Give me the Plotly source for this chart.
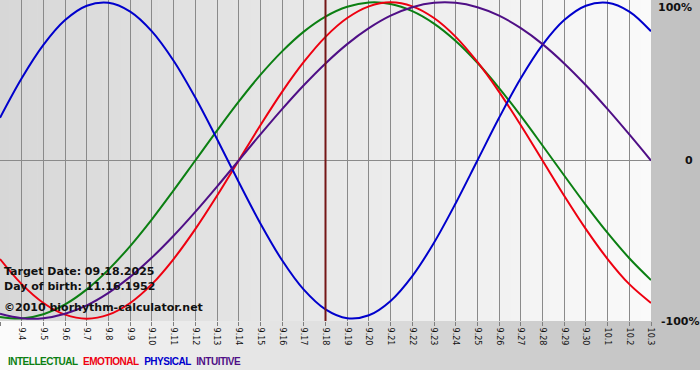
import plotly.graph_objects as go

# ---------------- data ----------------
dates = ["9.3", "9.4", "9.5", "9.6", "9.7", "9.8", "9.9", "9.10", "9.11", "9.12",
         "9.13", "9.14", "9.15", "9.16", "9.17", "9.18", "9.19", "9.20", "9.21", "9.22",
         "9.23", "9.24", "9.25", "9.26", "9.27", "9.28", "9.29", "9.30", "10.1", "10.2", "10.3"]

intellectual = [-0.990, -0.999, -0.972, -0.910, -0.815, -0.690, -0.541, -0.372, -0.189, 0.000,
                0.189, 0.372, 0.541, 0.690, 0.815, 0.910, 0.972, 0.999, 0.990, 0.945,
                0.866, 0.756, 0.618, 0.458, 0.282, 0.095, -0.095, -0.282, -0.458, -0.618, -0.756]

emotional = [-0.623, -0.782, -0.901, -0.975, -1.000, -0.975, -0.901, -0.782, -0.623, -0.434,
             -0.223, 0.000, 0.223, 0.434, 0.623, 0.782, 0.901, 0.975, 1.000, 0.975,
             0.901, 0.782, 0.623, 0.434, 0.223, 0.000, -0.223, -0.434, -0.623, -0.782, -0.901]

physical = [0.270, 0.520, 0.731, 0.888, 0.979, 0.998, 0.942, 0.817, 0.631, 0.398,
            0.136, -0.136, -0.398, -0.631, -0.817, -0.942, -0.998, -0.979, -0.888, -0.731,
            -0.520, -0.270, 0.000, 0.270, 0.520, 0.731, 0.888, 0.979, 0.998, 0.942, 0.817]

intuitive = [-0.969, -0.997, -0.997, -0.969, -0.916, -0.837, -0.736, -0.614, -0.476, -0.325,
             -0.165, 0.000, 0.165, 0.325, 0.476, 0.614, 0.736, 0.837, 0.916, 0.969,
             0.997, 0.997, 0.969, 0.916, 0.837, 0.736, 0.614, 0.476, 0.325, 0.165, 0.000]

series_names = ["INTELLECTUAL", "EMOTIONAL", "PHYSICAL", "INTUITIVE"]
series_values = [intellectual, emotional, physical, intuitive]

target_date = "9.18"
target_text = "Target Date: 09.18.2025"
birth_text = "Day of birth: 11.16.1952"
copyright_text = "\u00a92010 biorhythm-calculator.net"
y_labels = ["100%", "0", "-100%"]

# ---------------- styling ----------------
W, H = 700, 380
ML, MR, MT, MB = 0, 49, 0, 59
PW, PH = W - ML - MR, H - MT - MB
colors = {"INTELLECTUAL": "#0b7f12", "EMOTIONAL": "#ee0010",
          "PHYSICAL": "#0000cc", "INTUITIVE": "#4f0f86"}

x_idx = list(range(len(dates)))

fig = go.Figure()
for name, vals in zip(series_names, series_values):
    fig.add_trace(go.Scatter(x=x_idx, y=vals, mode="lines", name=name,
                             line=dict(color=colors[name], width=2, shape="spline", smoothing=1.0),
                             hoverinfo="skip"))


def px_x(p):  # pixel -> paper x
    return (p - ML) / PW


def px_y(p):  # pixel (from top) -> paper y
    return (MT + PH - p) / PH


def gray(v):
    v = int(round(v))
    return f"rgb({v},{v},{v})"


shapes = []
# outer gradient (right side + bottom band), horizontal light->dark
n_out = 70
bottom_band = px_y(370)
for i in range(n_out):
    x0p = W * i / n_out
    x1p = W * (i + 1) / n_out + 0.6
    c = 251 + (192 - 251) * (i + 0.5) / n_out
    x0, x1 = px_x(x0p), px_x(x1p)
    y1 = 1.0 if x0 >= 1.0 else 0.0
    shapes.append(dict(type="rect", xref="paper", yref="paper", x0=x0, x1=x1,
                       y0=bottom_band, y1=y1, fillcolor=gray(c), line=dict(width=0), layer="below"))
    if x0 < 1.0 < x1:
        shapes.append(dict(type="rect", xref="paper", yref="paper", x0=1.0, x1=x1,
                           y0=0, y1=1, fillcolor=gray(c), line=dict(width=0), layer="below"))
# plot-area gradient, darker on the left
n_in = 70
for i in range(n_in):
    x0 = i / n_in
    x1 = min(1.0, (i + 1) / n_in + 0.001)
    c = 215 + (250 - 215) * (i + 0.5) / n_in
    shapes.append(dict(type="rect", xref="paper", yref="paper", x0=x0, x1=x1,
                       y0=0, y1=1, fillcolor=gray(c), line=dict(width=0), layer="below"))

# target date line
ti = dates.index(target_date)
shapes.append(dict(type="line", xref="x", yref="paper", x0=ti, x1=ti, y0=0, y1=1,
                   line=dict(color="#741616", width=2), layer="above"))

annotations = []
txt_font = dict(family="DejaVu Sans", size=11, color="#111111")
for text, ypx in [(target_text, 271), (birth_text, 286), (copyright_text, 307)]:
    annotations.append(dict(text="<b>" + text + "</b>", xref="paper", yref="paper",
                            x=px_x(2), y=px_y(ypx), xanchor="left", yanchor="middle",
                            showarrow=False, font=txt_font))

for text, xpx, ypx in zip(y_labels, [656, 683, 659], [7, 161, 321]):
    annotations.append(dict(text="<b>" + text + "</b>", xref="paper", yref="paper",
                            x=px_x(xpx), y=px_y(ypx), xanchor="left", yanchor="middle",
                            showarrow=False, font=dict(family="DejaVu Sans", size=11, color="#111111")))

legend_html = "&nbsp;&nbsp;".join(
    f"<span style='color:{colors[n]};letter-spacing:-0.5px'>{n}</span>" for n in series_names)
annotations.append(dict(text="<b>" + legend_html + "</b>", xref="paper", yref="paper",
                        x=px_x(6), y=px_y(361), xanchor="left", yanchor="middle", showarrow=False,
                        font=dict(family="Liberation Sans", size=10)))

fig.update_layout(
    width=W, height=H,
    margin=dict(l=ML, r=MR, t=MT, b=MB, pad=0),
    paper_bgcolor="white", plot_bgcolor="rgba(0,0,0,0)",
    showlegend=False,
    shapes=shapes, annotations=annotations,
    xaxis=dict(range=[0, len(dates) - 1], tickmode="array", tickvals=x_idx, ticktext=dates,
               tickangle=90, ticks="outside", ticklen=4, tickcolor="#808080",
               showgrid=True, gridcolor="#8a8a8a", gridwidth=1, zeroline=False, showline=False,
               tickfont=dict(family="DejaVu Sans", size=8, color="#111111"), fixedrange=True),
    yaxis=dict(range=[-1.015, 1.015], showgrid=False, zeroline=True, zerolinecolor="#8a8a8a",
               zerolinewidth=1, showticklabels=False, ticks="", fixedrange=True),
)

fig.write_html("out.html", config={"displayModeBar": False},
               post_script="document.body.style.margin='0';document.body.style.overflow='hidden';")
